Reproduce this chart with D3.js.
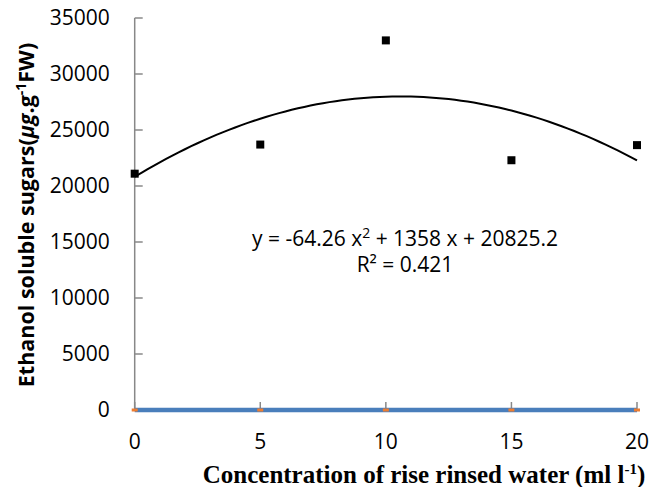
<!DOCTYPE html>
<html>
<head>
<meta charset="utf-8">
<script src="https://cdn.jsdelivr.net/npm/d3@7"></script>
<style>
  body { margin: 0; background: #fff; }
  svg { display: block; }
</style>
</head>
<body>
<div id="chart"></div>
<script>
// values
const concentration = [0, 5, 10, 15, 20];
const sugars = [21100, 23700, 33000, 22300, 23650];
const zeroSeries = [0, 0, 0, 0, 0];
const xTicks = [0, 5, 10, 15, 20];
const yTicks = [0, 5000, 10000, 15000, 20000, 25000, 30000, 35000];
// trendline coefficients as printed on the chart: a x^2 + b x + c
const trendCoef = [-64.26, 1358, 20825.2];

const width = 652, height = 487;
const margin = {top: 18, right: 15, bottom: 77, left: 134.7};

const svg = d3.select("#chart")
  .append("svg")
  .attr("width", width)
  .attr("height", height);

const x = d3.scaleLinear()
  .domain([0, 20])
  .range([margin.left, width - margin.right]);

const y = d3.scaleLinear()
  .domain([0, 35000])
  .range([height - margin.bottom, margin.top]);

const font = "'Open Sans', 'Noto Sans', sans-serif";

// Y axis line + inside ticks
svg.append("line")
  .attr("x1", x(0)).attr("x2", x(0))
  .attr("y1", y(35000)).attr("y2", y(0))
  .attr("stroke", "#888").attr("stroke-width", 1.5);

svg.selectAll(".ytick")
  .data(yTicks)
  .enter().append("line")
  .attr("x1", x(0)).attr("x2", x(0) + 8)
  .attr("y1", d => y(d)).attr("y2", d => y(d))
  .attr("stroke", "#888").attr("stroke-width", 1.5);

svg.selectAll(".ylab")
  .data(yTicks)
  .enter().append("text")
  .attr("x", x(0) - 25)
  .attr("y", d => y(d))
  .attr("dy", "0.35em")
  .attr("text-anchor", "end")
  .style("font-family", font)
  .style("font-size", "21px")
  .attr("fill", "#000")
  .text(d => d);

// X axis line + small inside ticks
svg.append("line")
  .attr("x1", x(0)).attr("x2", x(20))
  .attr("y1", y(0)).attr("y2", y(0))
  .attr("stroke", "#888").attr("stroke-width", 1.5);

svg.selectAll(".xtick")
  .data(xTicks)
  .enter().append("line")
  .attr("x1", d => x(d)).attr("x2", d => x(d))
  .attr("y1", y(0)).attr("y2", y(0) - 8)
  .attr("stroke", "#888").attr("stroke-width", 1.5);

svg.selectAll(".xlab")
  .data(xTicks)
  .enter().append("text")
  .attr("x", d => x(d))
  .attr("y", y(0) + 39)
  .attr("text-anchor", "middle")
  .style("font-family", font)
  .style("font-size", "21px")
  .attr("fill", "#000")
  .text(d => d);

// zero series: thick blue line with orange markers
const zeroLine = d3.line()
  .x((d, i) => x(concentration[i]))
  .y(d => y(d));

svg.append("path")
  .datum(zeroSeries)
  .attr("d", zeroLine)
  .attr("fill", "none")
  .attr("stroke", "#4a7ebb")
  .attr("stroke-width", 4.5);

svg.selectAll(".zmark")
  .data(zeroSeries)
  .enter().append("rect")
  .attr("x", (d, i) => x(concentration[i]) - 3)
  .attr("y", d => y(d) - 1.5)
  .attr("width", 6)
  .attr("height", 3)
  .attr("fill", "#ed7d31");

// polynomial trendline
const trendX = d3.range(0, 20.01, 0.25);
const poly = t => trendCoef[0] * t * t + trendCoef[1] * t + trendCoef[2];

svg.append("path")
  .datum(trendX)
  .attr("d", d3.line().x(d => x(d)).y(d => y(poly(d))).curve(d3.curveBasis))
  .attr("fill", "none")
  .attr("stroke", "#000")
  .attr("stroke-width", 2);

// data points
svg.selectAll(".pt")
  .data(sugars)
  .enter().append("rect")
  .attr("x", (d, i) => x(concentration[i]) - 4)
  .attr("y", d => y(d) - 4)
  .attr("width", 8)
  .attr("height", 8)
  .attr("fill", "#000");

// equation + R²
const eq = svg.append("text")
  .attr("x", 405)
  .attr("y", 246)
  .attr("text-anchor", "middle")
  .style("font-family", font)
  .style("font-size", "21px");
eq.append("tspan").text("y = -64.26 x");
eq.append("tspan").attr("dy", -8).style("font-size", "14px").text("2");
eq.append("tspan").attr("dy", 8).text(" + 1358 x + 20825.2");

svg.append("text")
  .attr("x", 405)
  .attr("y", 272)
  .attr("text-anchor", "middle")
  .style("font-family", font)
  .style("font-size", "21px")
  .text("R² = 0.421");

// axis titles
const yTitle = svg.append("text")
  .attr("transform", "translate(34,215) rotate(-90)")
  .attr("text-anchor", "middle")
  .style("font-family", font)
  .style("font-size", "21.5px")
  .style("font-weight", "bold");
yTitle.append("tspan").text("Ethanol soluble sugars(");
yTitle.append("tspan").style("font-style", "italic").text("μg");
yTitle.append("tspan").text(".g");
yTitle.append("tspan").attr("dy", -8).style("font-size", "14px").text("-1");
yTitle.append("tspan").attr("dy", 8).text("FW)");

const xTitle = svg.append("text")
  .attr("x", 424)
  .attr("y", 483)
  .attr("text-anchor", "middle")
  .style("font-family", "'Liberation Serif', 'Times New Roman', serif")
  .style("font-size", "25px")
  .style("font-weight", "bold");
xTitle.append("tspan").text("Concentration of rise rinsed water (ml l");
xTitle.append("tspan").attr("dy", -9).style("font-size", "15px").text("-1");
xTitle.append("tspan").attr("dy", 9).text(")");
</script>
</body>
</html>
